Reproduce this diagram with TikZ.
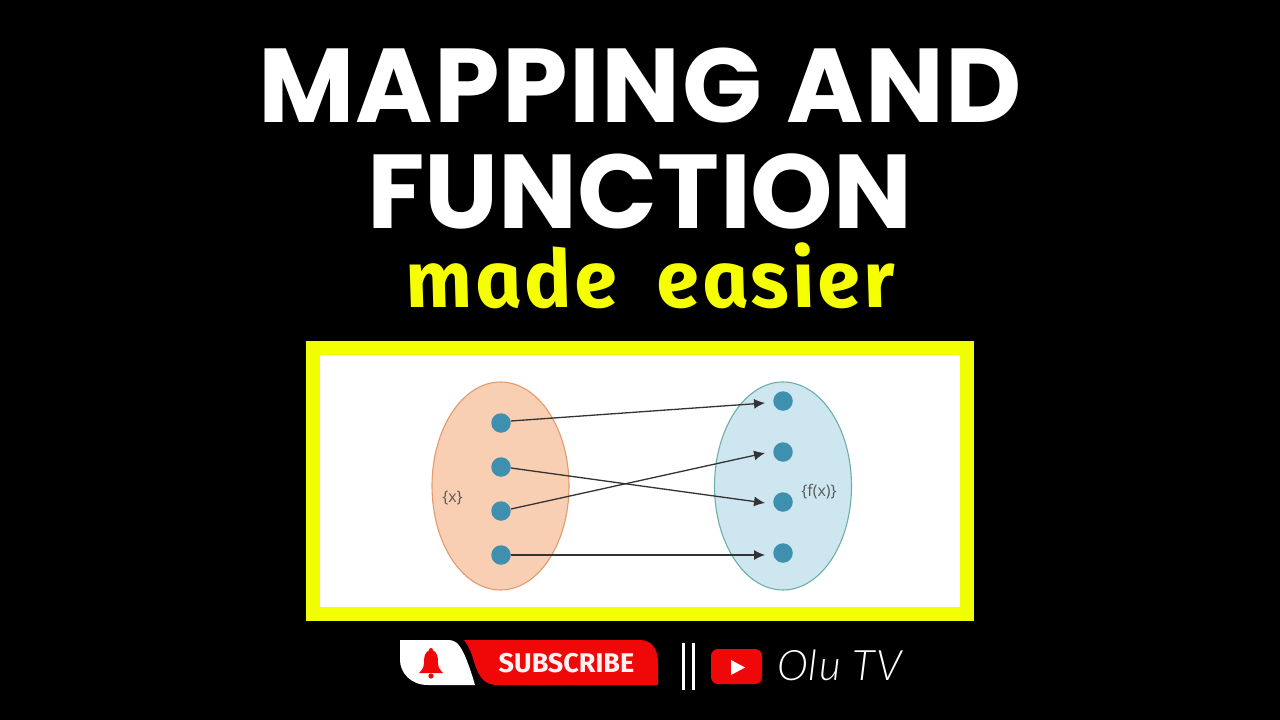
\documentclass[tikz,border=0pt]{standalone}
\usepackage{fontspec}
\usetikzlibrary{arrows.meta,shapes.geometric}
\setmainfont{Poppins}
\newfontfamily\titlefont[LetterSpace=1.5]{Poppins}
\newfontfamily\lab{Open Sans}
\newfontfamily\sub{Fira Sans}
\newfontfamily\hand[BoldItalicFeatures={FakeSlant=-0.17},LetterSpace=4]{Fira Sans}
\newfontfamily\oli[LetterSpace=3]{Lato Light}
\definecolor{dotc}{HTML}{3F8FAE}
\definecolor{lfill}{HTML}{F9CFB4}
\definecolor{lline}{HTML}{E29A6E}
\definecolor{rfill}{HTML}{CDE6F0}
\definecolor{rline}{HTML}{6FAFA5}
\definecolor{ytitle}{HTML}{F5FF00}
\definecolor{yframe}{HTML}{F2FF00}
\definecolor{ytred}{HTML}{F00808}
\tikzset{
  dotn/.style={circle,fill=dotc,minimum size=19.5pt,inner sep=0pt},
  setn/.style={ellipse,minimum width=137pt,minimum height=208pt,inner sep=0pt,line width=1.1pt},
  conn/.style={draw=black!80,line width=1.3pt,-{Latex[length=11pt,width=10pt]}},
  setl/.style={text=black!65,font=\lab\fontsize{16}{16}\selectfont,inner sep=0pt},
  titlet/.style={text=white,font=\titlefont\bfseries\fontsize{105}{105}\selectfont,anchor=base,inner sep=0pt}
}
\begin{document}
\begin{tikzpicture}[x=1pt,y=-1pt]
\useasboundingbox (0,0) rectangle (1280,720);
\fill[black] (0,0) rectangle (1280,720);
\node[titlet] (t1) at (640,122) {MAPPING AND};
\node[titlet,font=\bfseries\fontsize{105}{105}\selectfont] (t2) at (640,228) {FUNCTION};
\node[text=ytitle,anchor=base,inner sep=0pt,font=\hand\bfseries\itshape\fontsize{80}{80}\selectfont] (t3) at (654,307) {made\hspace{0.5em}easier};
\fill[yframe] (306,341) rectangle (974,621);
\fill[white] (320,355) rectangle (960,607);
\node[setn,draw=lline,fill=lfill] (sl) at (500.5,486) {};
\node[setn,draw=rline,fill=rfill] (sr) at (783,486) {};
\node[setl] (lx) at (452.5,498) {\{x\}};
\node[setl] (lf) at (819,492) {\{f(x)\}};
\foreach \n/\yy in {a/423,b/467,c/511,d/555} \node[dotn] (\n) at (501,\yy) {};
\foreach \n/\yy in {p/401,q/452,r/502,s/553} \node[dotn] (\n) at (783,\yy) {};
\draw[conn] ([shift={(0,-2)}]a.east) -- ([shift={(-8,2)}]p.west);
\draw[conn] ([shift={(0,1)}]b.east) -- ([shift={(-8,1)}]r.west);
\draw[conn] ([shift={(0,-2)}]c.east) -- ([shift={(-8,1)}]q.west);
\draw[conn] (d.east) -- ([shift={(-8,2)}]s.west);
% subscribe
\fill[white] (400,640) -- (448,640) .. controls (458,640) and (461,648) .. (465,656) .. controls (470,668) and (473,678) .. (475,685) -- (428,685) .. controls (410,685) and (400,672) .. (400,660) -- cycle;
\fill[ytred] (464,640) -- (640,640) .. controls (652,640) and (658,650) .. (658,662) -- (658,685) -- (497,685) .. controls (484,685) and (479,676) .. (475,665) .. controls (472,655) and (470,648) .. (464,640) -- cycle;
\fill[ytred] (431,650) .. controls (424,651) and (424,658) .. (424,663) .. controls (424,668) and (421,671) .. (419,673) -- (443,673) .. controls (441,671) and (438,668) .. (438,663) .. controls (438,658) and (438,651) .. (431,650) -- cycle;
\fill[ytred] (431,676) circle (2.6);
\fill[ytred] (431,650) circle (2);
\node[text=white!95!red,font=\sub\bfseries\fontsize{27}{27}\selectfont,inner sep=0pt] (subt) at (566.5,663) {SUBSCRIBE};
\draw[white,line width=3pt] (683,643) -- (683,690) (693.5,643) -- (693.5,690);
\fill[ytred,rounded corners=7pt] (711,649) rectangle (762,684);
\fill[white] (731,660) -- (731,675) -- (745,667.5) -- cycle;
\node[text=white,anchor=base west,inner sep=0pt,font=\oli\itshape\fontsize{42}{42}\selectfont] (olu) at (777,680) {Olu TV};
\end{tikzpicture}
\end{document}
